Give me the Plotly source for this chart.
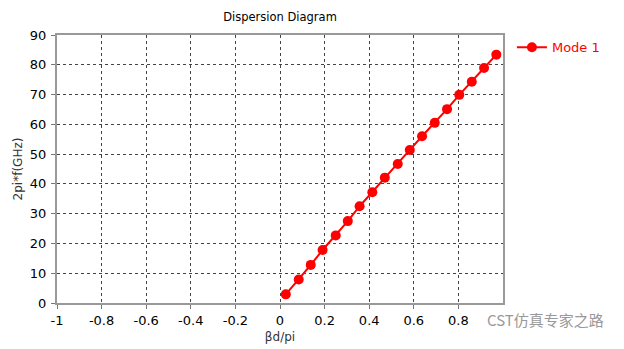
import plotly.graph_objects as go

beta_d_pi = [0.026, 0.084, 0.138, 0.191, 0.250, 0.304, 0.357, 0.414, 0.470,
             0.528, 0.582, 0.637, 0.694, 0.749, 0.804, 0.860, 0.915, 0.970]
freq = [2.9, 7.9, 12.8, 17.8, 22.7, 27.5, 32.5, 37.2, 42.1,
        46.7, 51.4, 56.0, 60.5, 65.1, 69.9, 74.3, 78.9, 83.4]
x_ticks = [-1, -0.8, -0.6, -0.4, -0.2, 0, 0.2, 0.4, 0.6, 0.8]
y_ticks = [0, 10, 20, 30, 40, 50, 60, 70, 80, 90]

FONT = "DejaVu Sans"
fig = go.Figure()
fig.add_trace(go.Scatter(
    x=beta_d_pi, y=freq, mode="lines+markers", name="Mode 1",
    line=dict(color="#ff0000", width=2),
    marker=dict(color="#ff0000", size=10, symbol="circle"),
))

axis_common = dict(
    showgrid=True, gridcolor="#444444", griddash="dot", gridwidth=1,
    showline=True, linecolor="#999999", linewidth=2, mirror=True,
    ticks="outside", ticklen=4, tickcolor="#777777",
    tickfont=dict(family=FONT, size=13, color="#000000"),
    zeroline=False, automargin=False,
)
fig.update_xaxes(range=[-1, 1], tickvals=x_ticks,
                 ticktext=[str(v) for v in x_ticks], ticklabelstandoff=0,
                 title=dict(text="βd/pi", font=dict(family=FONT, size=12, color="#333333"), standoff=6),
                 **axis_common)
fig.update_yaxes(range=[0, 90], tickvals=y_ticks, ticklabelstandoff=2,
                 title=dict(text="2pi*f(GHz)", font=dict(family=FONT, size=12, color="#333333"), standoff=5),
                 **axis_common)

fig.update_layout(
    width=624, height=349,
    margin=dict(l=57, r=121, t=35, b=46, autoexpand=False),
    paper_bgcolor="white", plot_bgcolor="white",
    title=dict(text="Dispersion Diagram", x=(57 + 223) / 624, xanchor="center",
               y=1 - 17 / 349, yanchor="middle",
               font=dict(family=FONT, size=11.5, color="#000000")),
    showlegend=True,
    legend=dict(x=1.02, y=1.01, xanchor="left", yanchor="top",
                font=dict(family=FONT, size=13, color="#ff0000"),
                bgcolor="rgba(0,0,0,0)", itemwidth=30),
    annotations=[dict(text="CST仿真专家之路", xref="paper", yref="paper",
                      x=1.23, y=-0.06, xanchor="right", yanchor="middle",
                      showarrow=False,
                      font=dict(family="Noto Sans CJK SC", size=15, color="#999999"))],
)

fig.write_html("out.html")
